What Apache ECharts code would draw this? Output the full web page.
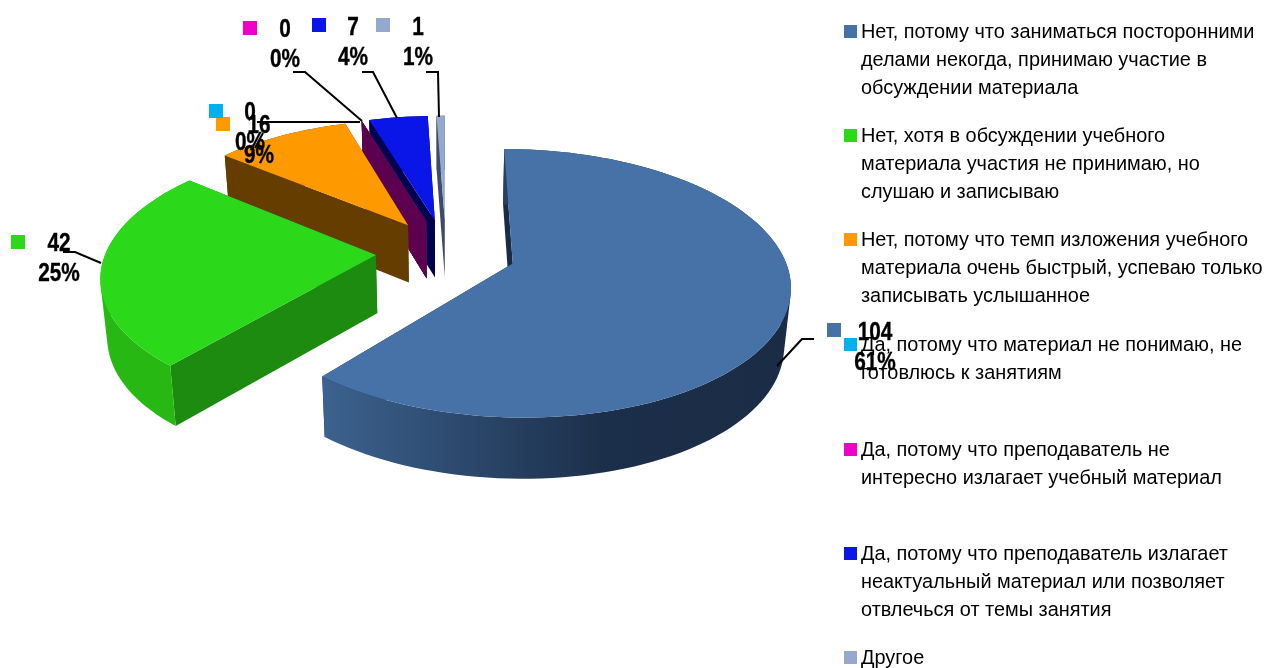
<!DOCTYPE html>
<html><head><meta charset="utf-8">
<style>html,body{margin:0;padding:0;background:#fff}#c{width:1264px;height:668px}</style>
<script src="https://cdn.jsdelivr.net/npm/echarts@6/dist/echarts.min.js"></script>
</head><body><div id="c"></div>
<script>
const categories = [
  'Нет, потому что заниматься посторонними\nделами некогда, принимаю участие в\nобсуждении материала',
  'Нет, хотя в обсуждении учебного\nматериала участия не принимаю, но\nслушаю и записываю',
  'Нет, потому что темп изложения учебного\nматериала очень быстрый, успеваю только\nзаписывать услышанное',
  'Да, потому что материал не понимаю, не\nготовлюсь к занятиям',
  'Да, потому что преподаватель не\nинтересно излагает учебный материал',
  'Да, потому что преподаватель излагает\nнеактуальный материал или позволяет\nотвлечься от темы занятия',
  'Другое'
];
const values = [104, 42, 16, 0, 0, 7, 1];
const percents = ['61%', '25%', '9%', '0%', '0%', '4%', '1%'];
const topColors = ['#4672A8', '#2CD91A', '#FF9900', '#00B0F0', '#F000C8', '#0A16E8', '#95A9CF'];
const radialColors = ['#1A2C45', '#1D8A10', '#663D00', '#003F5C', '#5E0050', '#00004F', '#3F4A66'];
const rimStops = [
  [[0.0, '#3C628F'], [0.6, '#1C2F4A'], [1, '#1A2C45']],
  [[0, '#28B814'], [1, '#28B814']],
  [[0, '#663D00'], [1, '#663D00']],
  [[0, '#003F5C'], [1, '#003F5C']],
  [[0, '#5E0050'], [1, '#5E0050']],
  [[0, '#00004F'], [1, '#00004F']],
  [[0, '#3F4A66'], [1, '#3F4A66']]
];
const drawOrder = [6, 5, 3, 4, 2, 1, 0];

// Projection of the tilted, exploded disc
const view = { cx: 446, cy: 252, rx: 270, ry: 128, persp: 0.145, explode: 0.26, depth: 58, depthPersp: 0.05, taper: 0.02, start: 0 };
// Data-label layout
const labelKeys = [[827,323],[11,235],[216,117],[209,104],[243,21],[312,18],[376,18]];
const labelCentres = [[875,348],[59,259],[259,141],[250,128],[285,45],[353,43],[418,43]];
const leaders = [
  [[777,366],[802,339],[814,339]],
  [[101,263],[75,252],[63,252]],
  [[263,133],[255,148]],
  [[360,122],[257,122]],
  [[362,121],[305,72],[293,72]],
  [[397,118],[373,72],[362,72]],
  [[439,117],[438,72],[426,72]]
];
const legendTops = [19, 123, 227, 332, 437, 541, 645];
const legendLine = 28;

const total = values.reduce((a, b) => a + b, 0);
const rad = d => d * Math.PI / 180;
const spans = [];
values.reduce((acc, v) => { const e = acc + v / total * 360; spans.push([acc, e]); return e; }, view.start);

function project(theta, r, z, mid) {
  const u = view.explode * Math.sin(rad(mid)) + r * Math.sin(rad(theta));
  const v = -(view.explode * Math.cos(rad(mid)) + r * Math.cos(rad(theta)));
  const s = 1 / (1 - view.persp * v);
  return [view.cx + view.rx * u * s * (1 - view.taper * z), view.cy + view.ry * v * s + view.depth * z * (1 + view.depthPersp * v)];
}
function arc(a, b, z, mid) {
  const n = Math.max(2, Math.ceil(Math.abs(b - a) / 2));
  const pts = [];
  for (let i = 0; i <= n; i++) pts.push(project(a + (b - a) * i / n, 1, z, mid));
  return pts;
}
// One path made of same-winding quads, so the wall fills as a seamless union
function wallPath(top, bot) {
  let d = '';
  for (let j = 0; j + 1 < top.length; j++) {
    let q = [top[j], top[j + 1], bot[j + 1], bot[j]];
    let area = 0;
    q.forEach((p, k) => { const n = q[(k + 1) % 4]; area += p[0] * n[1] - n[0] * p[1]; });
    if (area < 0) q = q.reverse();
    d += 'M' + q.map(p => p[0].toFixed(2) + ' ' + p[1].toFixed(2)).join('L') + 'Z';
  }
  return d;
}
function sliceItem(i) {
  return function (params, api) {
    const [a] = spans[i];
    const b = a + api.value(0) / total * 360;
    const mid = (a + b) / 2;
    const c0 = project(0, 0, 0, mid), c1 = project(0, 0, 1, mid);
    const rimTop = arc(a, b, 0, mid), rimBot = arc(a, b, 1, mid);
    const first0 = rimTop[0], first1 = rimBot[0];
    const last0 = rimTop[rimTop.length - 1], last1 = rimBot[rimBot.length - 1];
    const xs = rimTop.map(p => p[0]);
    const x0 = Math.min(...xs), x1 = Math.max(...xs);
    const poly = (points, fill) => ({ type: 'polygon', shape: { points }, style: { fill } });
    const rimFill = {
      type: 'linear', global: true, x: x0, y: 0, x2: Math.max(x1, x0 + 1), y2: 0,
      colorStops: rimStops[i].map(s => ({ offset: s[0], color: s[1] }))
    };
    return { type: 'group', children: [
      poly([c0, first0, first1, c1], radialColors[i]),
      poly([c0, last0, last1, c1], radialColors[i]),
      { type: 'path', shape: { pathData: wallPath(rimTop, rimBot) }, style: { fill: rimFill } },
      poly([c0].concat(rimTop), topColors[i])
    ] };
  };
}
function labelItem(params, api) {
  const i = params.dataIndex;
  const k = labelKeys[i], t = labelCentres[i];
  return { type: 'group', children: [
    { type: 'polyline', shape: { points: leaders[i] }, style: { stroke: '#000', lineWidth: 2, fill: null } },
    { type: 'rect', shape: { x: k[0], y: k[1], width: 14, height: 14 }, style: { fill: topColors[i] } },
    { type: 'text', x: t[0], y: t[1], scaleX: 0.8, style: {
      text: api.value(0) + '\n' + percents[i], x: 0, y: 0, align: 'center', verticalAlign: 'middle',
      fill: '#000', stroke: '#000', lineWidth: 0.4, lineHeight: 30, fontFamily: '"Liberation Sans",Arial', fontWeight: 'bold', fontSize: 26
    } }
  ] };
}
const lineCount = s => s.split('\n').length;
const keyIcon = h => `path://M0 0L13 0Z M0 ${h}L13 ${h}Z M0 6H13V19H0Z`;

const option = {
  animation: false,
  backgroundColor: '#fff',
  legend: categories.map((name, i) => ({
    data: [name], left: 844, top: legendTops[i], orient: 'vertical', padding: 0, z: 10,
    selectedMode: false, icon: keyIcon(lineCount(name) * legendLine),
    itemWidth: 13, itemHeight: lineCount(name) * legendLine, itemGap: 0,
    textStyle: { fontFamily: '"Liberation Sans",Arial', fontSize: 19.9, lineHeight: legendLine, color: '#000', padding: [0, 0, 0, -1] }
  })),
  series: drawOrder.map((i, order) => ({
    type: 'custom', name: categories[i], coordinateSystem: 'none', z: 1 + order, silent: true,
    itemStyle: { color: topColors[i] }, data: [[values[i]]], renderItem: sliceItem(i)
  })).concat([{
    type: 'custom', name: 'labels', coordinateSystem: 'none', z: 20, silent: true,
    data: values.map(v => [v]), renderItem: labelItem
  }])
};
echarts.init(document.getElementById('c'), null, { renderer: 'canvas' }).setOption(option);
</script></body></html>
